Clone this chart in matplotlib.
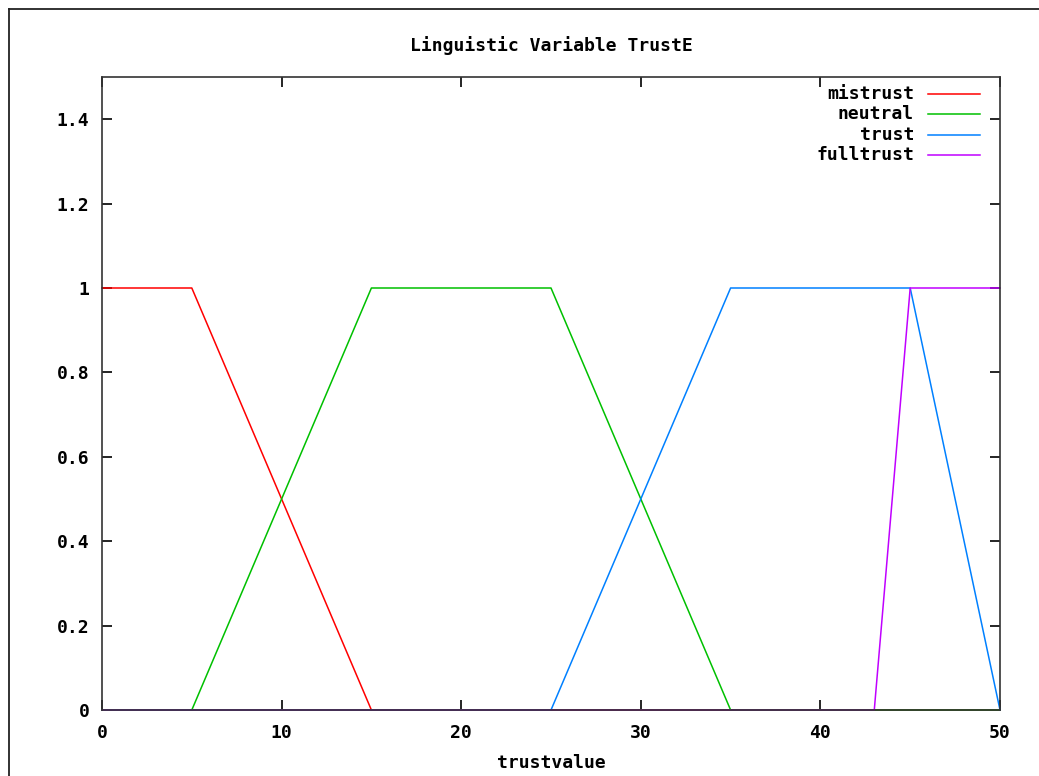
import matplotlib
matplotlib.use('Agg')
import matplotlib.pyplot as plt
from matplotlib.lines import Line2D

# membership functions of TrustE
mistrust_x = [0, 5, 15, 50]
mistrust_y = [1, 1, 0, 0]
neutral_x = [0, 5, 15, 25, 35, 50]
neutral_y = [0, 0, 1, 1, 0, 0]
trust_x = [0, 25, 35, 45, 50]
trust_y = [0, 0, 1, 1, 0]
fulltrust_x = [0, 43, 45, 50]
fulltrust_y = [0, 0, 1, 1]

names = ['mistrust', 'neutral', 'trust', 'fulltrust']
colors = ['#ff0000', '#00c000', '#0080ff', '#c000ff']
xticks = [0, 10, 20, 30, 40, 50]
yticks = [0, 0.2, 0.4, 0.6, 0.8, 1, 1.2, 1.4]
ylabels = ['0', '0.2', '0.4', '0.6', '0.8', '1', '1.2', '1.4']

font = {'family': 'DejaVu Sans Mono', 'weight': 'bold', 'size': 13}

fig = plt.figure(figsize=(10.39, 7.76), dpi=100)
ax = fig.add_axes([102/1039, 1-710/776, 898/1039, 633/776])

series = [(mistrust_x, mistrust_y), (neutral_x, neutral_y), (trust_x, trust_y), (fulltrust_x, fulltrust_y)]
for (xs, ys), c in zip(series, colors):
    ax.plot(xs, ys, color=c, lw=1.1, clip_on=False, zorder=2)

ax.set_xlim(0, 50)
ax.set_ylim(0, 1.5)
ax.set_xticks(xticks)
ax.set_yticks(yticks)
ax.set_xticklabels([str(t) for t in xticks], fontdict=font)
ax.set_yticklabels(ylabels, fontdict=font)
ax.tick_params(direction='in', length=7, width=1.2, top=True, right=True)
ax.tick_params(axis='x', pad=10)
ax.tick_params(axis='y', pad=9)
for s in ax.spines.values():
    s.set_linewidth(1.2)
    s.set_color('#333333')
    s.set_zorder(3)

ax.set_title('Linguistic Variable TrustE', fontdict=font, pad=19)
ax.set_xlabel('trustvalue', fontdict=font, labelpad=9)

# legend, gnuplot style (text right aligned, line after it)
for i, (n, c) in enumerate(zip(names, colors)):
    yy = 1 - (94 - 77 + i * 20.3) / 633
    ax.text((914-102)/898, yy, n, ha='right', va='center', transform=ax.transAxes, **font)
    ax.plot([(928-102)/898, (980-102)/898], [yy, yy], color=c, lw=1.1, transform=ax.transAxes)

# outer frame
fig.add_artist(Line2D([9/1039, 1], [1-9/776, 1-9/776], color='#222222', lw=1.3))
fig.add_artist(Line2D([9/1039, 9/1039], [0, 1-9/776], color='#222222', lw=1.3))

fig.savefig('out.png', dpi=100)
